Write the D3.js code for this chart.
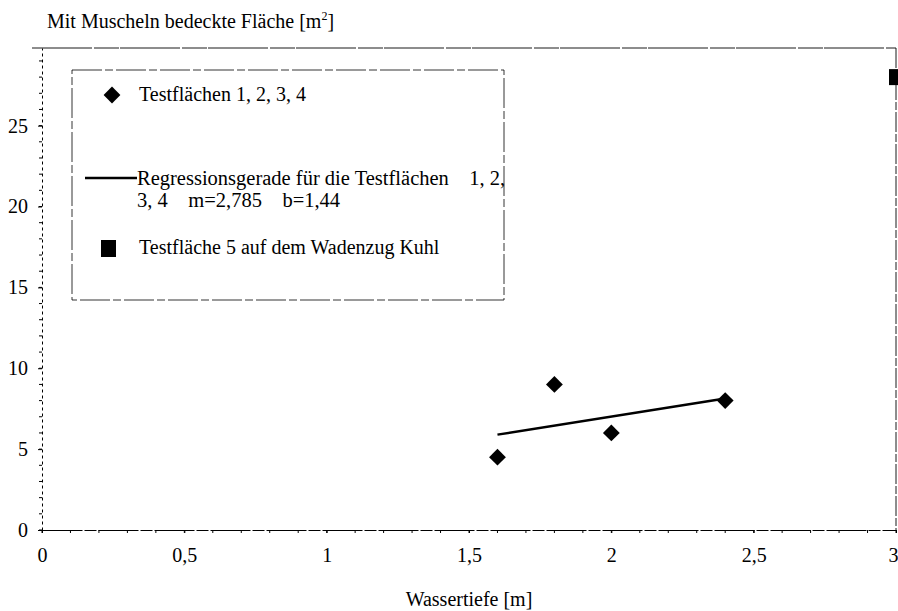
<!DOCTYPE html>
<meta charset="utf-8">
<style>
body { margin: 0; background: #fff; }
svg text { font-family: "Liberation Serif", "DejaVu Serif", "Times New Roman", serif !important; fill: #000; }
.axis path, .axis line { stroke: #000; fill: none; }
</style>
<div id="chart"></div>
<script src="https://d3js.org/d3.v7.min.js"></script>
<script>
// data
var testX = [1.6, 1.8, 2.0, 2.4];
var testY = [4.5, 9, 6, 8];
var kuhlX = [3];
var kuhlY = [28];
var slope = 2.785, intercept = 1.44;
var regX = [1.6, 2.4];
var xTicks = [0, 0.5, 1, 1.5, 2, 2.5, 3];
var yTicks = [0, 5, 10, 15, 20, 25];
var legendLabels = ["Testflächen 1, 2, 3, 4",
  ["Regressionsgerade für die Testflächen    1, 2,", "3, 4    m=2,785    b=1,44"],
  "Testfläche 5 auf dem Wadenzug Kuhl"];

var W = 898, H = 611;
var margin = {top: 48, right: 2, bottom: 81, left: 42};
var width = W - margin.left - margin.right,
    height = H - margin.top - margin.bottom;
var serif = "'Liberation Serif', 'DejaVu Serif', serif";
var fs = 20;

var svg = d3.select("#chart").append("svg")
  .attr("width", W).attr("height", H)
  .attr("font-family", serif);

var g = svg.append("g")
  .attr("transform", "translate(" + margin.left + "," + margin.top + ")");

var x = d3.scaleLinear().domain([0, 3]).range([0, width]);
var y = d3.scaleLinear().domain([0, 29.8]).range([height, 0]);

var fmt = function(d) { return String(d).replace(".", ","); };

// frame top / right (broken like the scan)
g.append("line").attr("x1", -10).attr("x2", width).attr("y1", 0).attr("y2", 0)
  .attr("stroke", "#000").attr("stroke-width", 0.9).attr("stroke-dasharray", "60,2,25,1");
g.append("line").attr("x1", width).attr("x2", width).attr("y1", 0).attr("y2", height)
  .attr("stroke", "#000").attr("stroke-width", 0.9).attr("stroke-dasharray", "20,2,8,2");

// minor ticks
g.append("g").selectAll("line").data(d3.range(0, 30, 1)).join("line")
  .attr("x1", -3).attr("x2", 0)
  .attr("y1", function(d) { return y(d); }).attr("y2", function(d) { return y(d); })
  .attr("stroke", "#000");
g.append("g").selectAll("line").data(d3.range(0, 31, 1).map(function(d) { return d / 10; })).join("line")
  .attr("x1", function(d) { return x(d); }).attr("x2", function(d) { return x(d); })
  .attr("y1", height).attr("y2", height + 3)
  .attr("stroke", "#000");

// axes
var yAxis = g.append("g").attr("class", "axis")
  .call(d3.axisLeft(y).tickValues(yTicks).tickSize(4).tickSizeOuter(0).tickFormat(fmt));
yAxis.attr("font-family", serif);
yAxis.select(".domain").attr("stroke-dasharray", "3,3");
yAxis.selectAll("text").attr("font-size", fs).attr("x", -14);

var xAxis = g.append("g").attr("class", "axis")
  .attr("transform", "translate(0," + height + ")")
  .call(d3.axisBottom(x).tickValues(xTicks).tickSize(3).tickSizeOuter(0).tickFormat(fmt));
xAxis.attr("font-family", serif);
xAxis.select(".domain").attr("stroke-dasharray", "40,2,12,2");
xAxis.selectAll("text").attr("font-size", fs).attr("y", 18);
// last label sits on the page edge; keep it fully visible
xAxis.selectAll(".tick").filter(function(d) { return d === 3; })
  .select("text").attr("text-anchor", "end").attr("dx", 2);

// regression line
g.append("path")
  .datum(regX)
  .attr("fill", "none").attr("stroke", "#000").attr("stroke-width", 2.5)
  .attr("d", d3.line()
    .x(function(d) { return x(d); })
    .y(function(d) { return y(slope * d + intercept); }));

// diamonds
var diamond = d3.symbol().type(d3.symbolDiamond2).size(180);
g.selectAll(".pt").data(testX).join("path")
  .attr("class", "pt")
  .attr("d", diamond)
  .attr("transform", function(d, i) { return "translate(" + x(d) + "," + y(testY[i]) + ")"; })
  .attr("fill", "#000");

// square
g.selectAll(".sq").data(kuhlX).join("rect")
  .attr("class", "sq")
  .attr("x", function(d) { return x(d) - 7; })
  .attr("y", function(d, i) { return y(kuhlY[i]) - 8; })
  .attr("width", 12).attr("height", 16)
  .attr("fill", "#000");

// titles
svg.append("text").attr("x", 47).attr("y", 28).attr("font-size", fs)
  .html("Mit Muscheln bedeckte Fläche [m<tspan dy='-8' font-size='12'>2</tspan><tspan dy='8'>]</tspan>");
svg.append("text").attr("x", 469).attr("y", 606).attr("font-size", fs)
  .attr("text-anchor", "middle").text("Wassertiefe [m]");

// legend
var lg = svg.append("g");
lg.append("rect").attr("x", 72).attr("y", 70).attr("width", 432).attr("height", 230)
  .attr("fill", "#fff").attr("stroke", "#000").attr("stroke-width", 0.8)
  .attr("stroke-dasharray", "30,3,8,3");
lg.append("path").attr("d", d3.symbol().type(d3.symbolDiamond2).size(180))
  .attr("transform", "translate(112,95)").attr("fill", "#000");
lg.append("text").attr("x", 139).attr("y", 101).attr("font-size", fs).text(legendLabels[0]);
lg.append("line").attr("x1", 85).attr("x2", 137).attr("y1", 178).attr("y2", 178)
  .attr("stroke", "#000").attr("stroke-width", 2.5);
lg.append("text").attr("x", 137).attr("y", 185).attr("font-size", 20.5).attr("xml:space", "preserve")
  .text(legendLabels[1][0]);
lg.append("text").attr("x", 137).attr("y", 207).attr("font-size", 20.5).attr("xml:space", "preserve")
  .text(legendLabels[1][1]);
lg.append("rect").attr("x", 101).attr("y", 240).attr("width", 15).attr("height", 17).attr("fill", "#000");
lg.append("text").attr("x", 139).attr("y", 254).attr("font-size", fs).text(legendLabels[2]);
</script>
